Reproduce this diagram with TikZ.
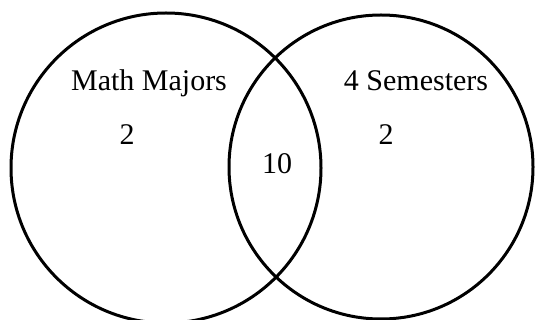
\documentclass[tikz,border=0pt]{standalone}
\usepackage{fontspec}
\setmainfont{Liberation Serif}
\begin{document}
\begin{tikzpicture}[x=1pt,y=-1pt,
  setcircle/.style={circle,draw=black,line width=3pt,inner sep=0pt},
  lbl/.style={anchor=base,inner sep=0pt,font=\fontsize{30}{36}\selectfont}]
\useasboundingbox (0,0) rectangle (535,320);
\node[setcircle,minimum size=310pt] (A) at (166,168) {};
\node[setcircle,minimum size=304pt] (B) at (381,167) {};
\node[lbl] (ta) at (149,91) {Math Majors};
\node[lbl] (tb) at (416,91) {4 Semesters};
\node[lbl] (na) at (127,145) {2};
\node[lbl] (nb) at (386,145) {2};
\node[lbl] (nab) at (277,174) {10};
\end{tikzpicture}
\end{document}
